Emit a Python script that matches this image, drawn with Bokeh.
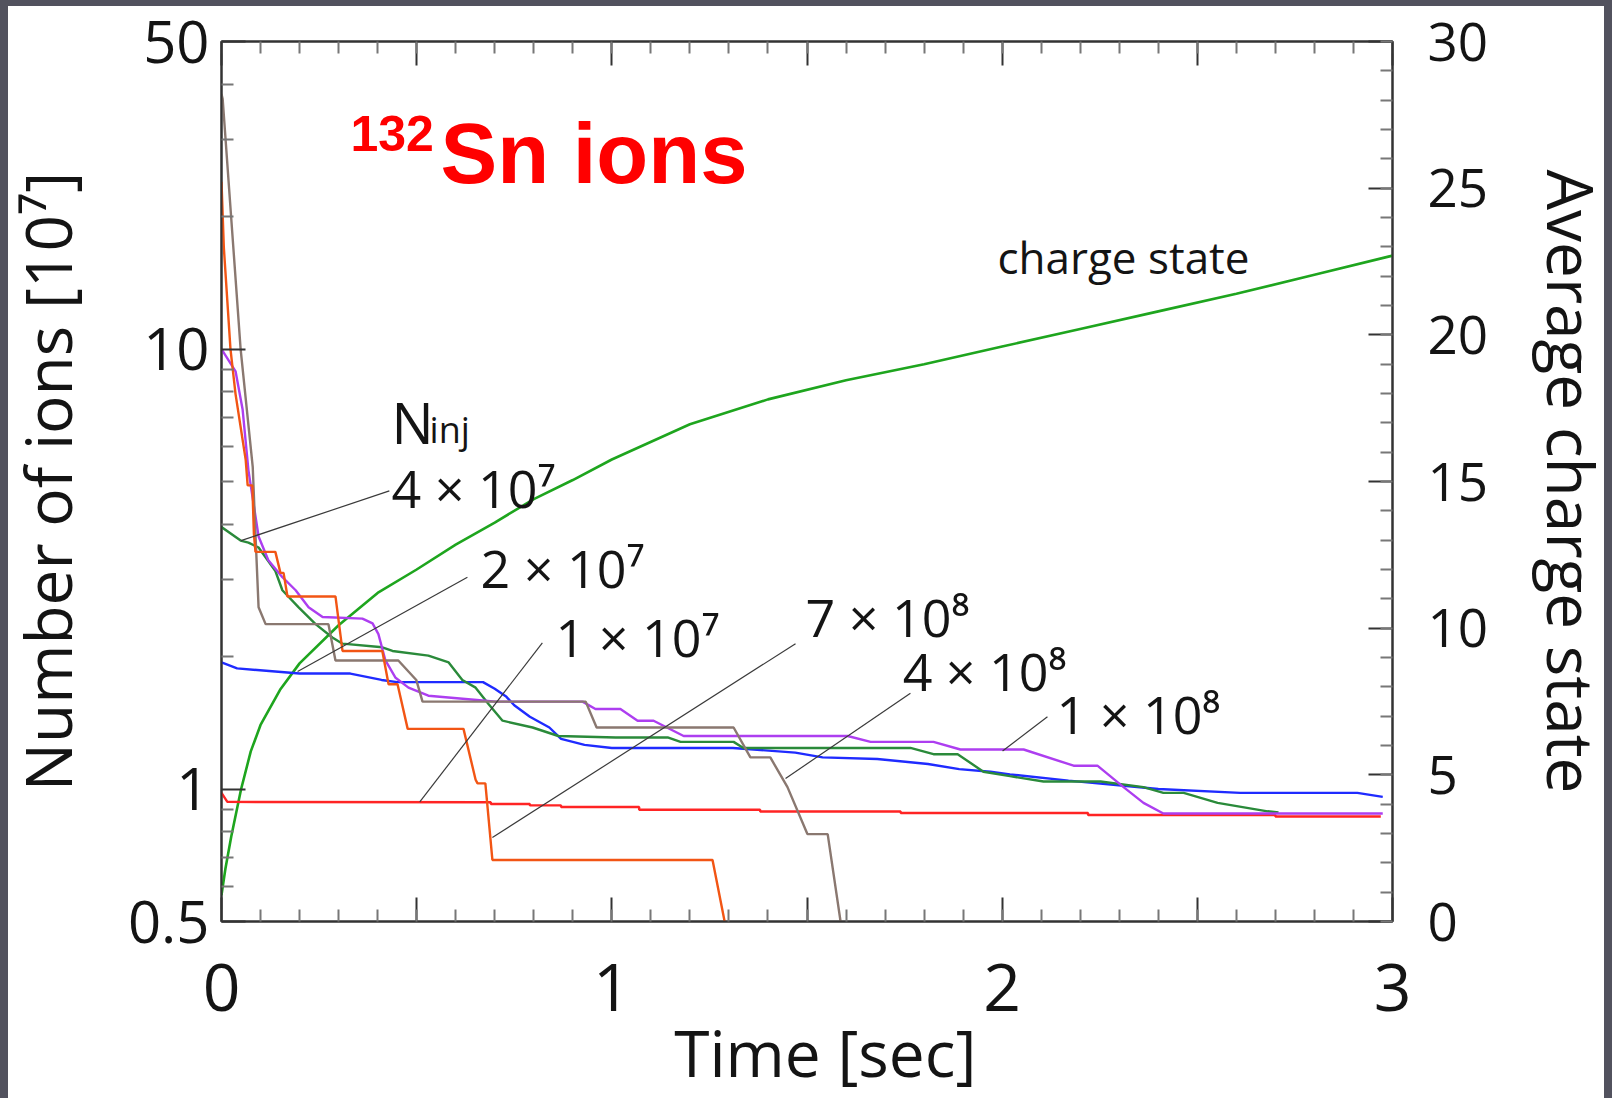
from bokeh.plotting import figure
from bokeh.models import Range1d, LinearAxis, LinearScale, FixedTicker, SingleIntervalTicker, Label
from bokeh.embed import file_html
from bokeh.resources import INLINE

# ---------------- data ----------------
# time axis [sec], number of ions [1e7], average charge state
t_q = [0, 0.01, 0.025, 0.05, 0.075, 0.1, 0.15, 0.2, 0.3, 0.4, 0.5, 0.6, 0.7, 0.8,
       0.9, 1.0, 1.2, 1.4, 1.6, 1.8, 2.0, 2.2, 2.4, 2.6, 2.8, 3.0]
q = [0.9, 1.8, 2.9, 4.5, 5.8, 6.7, 7.9, 8.8, 10.1, 11.2, 12.0, 12.85, 13.6, 14.4,
     15.05, 15.75, 16.95, 17.8, 18.45, 19.0, 19.6, 20.2, 20.8, 21.4, 22.05, 22.7]

# N_inj = 1e7 (red)
t_1e7 = [0, 0.015, 0.69, 0.69, 0.79, 0.79, 0.87, 0.87, 1.07, 1.07, 1.38, 1.38,
         1.74, 1.74, 2.22, 2.22, 2.70, 2.70, 2.97]
n_1e7 = [0.98, 0.935, 0.933, 0.925, 0.925, 0.918, 0.918, 0.91, 0.91, 0.897, 0.897,
         0.889, 0.889, 0.882, 0.882, 0.873, 0.873, 0.866, 0.866]

# N_inj = 2e7 (blue)
t_2e7 = [0, 0.04, 0.2, 0.33, 0.41, 0.45, 0.67, 0.70, 0.73, 0.75, 0.79, 0.84, 0.87,
         0.93, 1.0, 1.31, 1.47, 1.54, 1.68, 1.81, 1.89, 1.97, 2.02, 2.17, 2.40,
         2.61, 2.91, 2.975]
n_2e7 = [1.94, 1.88, 1.83, 1.83, 1.77, 1.75, 1.75, 1.69, 1.62, 1.55, 1.46, 1.38,
         1.30, 1.26, 1.24, 1.24, 1.21, 1.18, 1.17, 1.14, 1.11, 1.095, 1.08, 1.045,
         1.0, 0.98, 0.98, 0.96]

# N_inj = 4e7 (dark green)
t_4e7 = [0, 0.049, 0.069, 0.095, 0.138, 0.156, 0.197, 0.241, 0.284, 0.31, 0.412,
         0.438, 0.53, 0.582, 0.617, 0.651, 0.684, 0.72, 0.797, 0.863, 1.01, 1.143,
         1.176, 1.312, 1.337, 1.765, 1.824, 1.886, 1.952, 2.02, 2.106, 2.252,
         2.362, 2.413, 2.465, 2.552, 2.68, 2.708]
n_4e7 = [3.94, 3.67, 3.63, 3.54, 3.13, 2.83, 2.59, 2.37, 2.21, 2.14, 2.10, 2.06,
         2.01, 1.94, 1.77, 1.70, 1.56, 1.43, 1.38, 1.32, 1.31, 1.31, 1.28, 1.28,
         1.24, 1.24, 1.20, 1.20, 1.095, 1.07, 1.04, 1.04, 1.01, 0.98, 0.98, 0.93,
         0.89, 0.885]

# N_inj = 1e8 (purple)
t_1e8 = [0, 0.036, 0.054, 0.069, 0.095, 0.12, 0.156, 0.19, 0.223, 0.259, 0.361,
         0.387, 0.402, 0.42, 0.446, 0.479, 0.53, 0.669, 0.702, 0.925, 0.958, 1.022,
         1.066, 1.107, 1.184, 1.604, 1.663, 1.824, 1.893, 2.055, 2.183, 2.244,
         2.311, 2.362, 2.413, 2.975]
n_1e8 = [10.0, 8.9, 7.3, 5.3, 3.75, 3.31, 3.03, 2.83, 2.59, 2.46, 2.44, 2.38, 2.25,
         1.96, 1.79, 1.70, 1.63, 1.59, 1.58, 1.58, 1.52, 1.52, 1.43, 1.43, 1.32,
         1.32, 1.28, 1.28, 1.23, 1.23, 1.13, 1.13, 1.01, 0.93, 0.88, 0.88]

# N_inj = 4e8 (brown)
t_4e8 = [0, 0.003, 0.049, 0.08, 0.087, 0.095, 0.113, 0.274, 0.292, 0.453, 0.499,
         0.515, 0.933, 0.961, 1.312, 1.355, 1.406, 1.45, 1.501, 1.553, 1.586]
n_4e8 = [38.0, 37.0, 10.0, 5.4, 3.8, 2.59, 2.37, 2.37, 1.96, 1.96, 1.77, 1.58,
         1.58, 1.38, 1.38, 1.18, 1.18, 1.01, 0.79, 0.79, 0.5]

# N_inj = 7e8 (orange)
t_7e8 = [0, 0.006, 0.023, 0.036, 0.062, 0.067, 0.079, 0.083, 0.087, 0.138, 0.151,
         0.159, 0.169, 0.292, 0.31, 0.412, 0.428, 0.451, 0.477, 0.62, 0.651, 0.656,
         0.676, 0.694, 1.258, 1.289]
n_7e8 = [24.0, 17.0, 10.0, 7.9, 5.6, 4.9, 4.9, 3.8, 3.46, 3.46, 3.1, 3.1, 2.74,
         2.74, 2.06, 2.06, 1.73, 1.73, 1.37, 1.37, 1.05, 1.03, 1.03, 0.69, 0.69, 0.5]

# tick positions / labels
x_label_map = {0: "0", 0.5: "", 1: "1", 1.5: "", 2: "2", 2.5: "", 3: "3"}
y_major = [0.5, 1, 10, 50]
y_minor = [0.6, 0.7, 0.8, 0.9, 2, 3, 4, 5, 6, 7, 8, 9, 20, 30, 40]
y_label_map = {0.5: "0.5", 1: "1", 10: "10", 50: "50"}

# annotation texts and anchor points (time, ions) ; pointer ends
ann_text = ["4 × 10⁷", "2 × 10⁷", "1 × 10⁷", "7 × 10⁸", "4 × 10⁸", "1 × 10⁸"]
ann_t = [0.4355, 0.6635, 0.8557, 1.496, 1.745, 2.139]
ann_n = [4.39, 2.89, 2.01, 2.23, 1.68, 1.345]
ptr_t0 = [0.43, 0.63, 0.822, 1.4706, 1.765, 2.116]
ptr_n0 = [4.76, 3.03, 2.15, 2.14, 1.65, 1.46]
ptr_t1 = [0.05, 0.195, 0.508, 0.694, 1.445, 2.001]
ptr_n1 = [3.67, 1.85, 0.935, 0.776, 1.057, 1.22]

FONT = "Open Sans"
INK = "#141414"

p = figure(frame_width=1171, frame_height=880,
           x_range=Range1d(0, 3), y_range=Range1d(0.5, 50), y_axis_type="log",
           output_backend="svg", toolbar_location=None,
           min_border_left=221, min_border_right=0,
           min_border_top=41, min_border_bottom=0)
p.extra_y_ranges = {"q": Range1d(0, 30)}
p.extra_y_scales = {"q": LinearScale()}
p.grid.visible = False
p.background_fill_color = "white"
p.border_fill_color = "white"
p.outline_line_color = "#333333"
p.outline_line_width = 2


def style_axis(ax, label_size, title_size="64px"):
    ax.axis_line_color = "#333333"
    ax.axis_line_width = 2
    ax.major_tick_line_color = "#333333"
    ax.major_tick_line_width = 2
    ax.minor_tick_line_color = "#777777"
    ax.minor_tick_line_width = 2
    ax.major_tick_in = 24
    ax.major_tick_out = 0
    ax.minor_tick_in = 12
    ax.minor_tick_out = 0
    ax.major_label_text_font = FONT
    ax.major_label_text_font_size = label_size
    ax.major_label_text_color = INK
    ax.axis_label_text_font = FONT
    ax.axis_label_text_font_size = title_size
    ax.axis_label_text_font_style = "normal"
    ax.axis_label_text_color = INK


xax = p.xaxis[0]
xax.ticker = SingleIntervalTicker(interval=0.5, num_minor_ticks=5)
xax.major_label_overrides = x_label_map
xax.axis_label = "\u2007Time [sec]"
style_axis(xax, "66px")
xax.major_label_standoff = 42
xax.axis_label_standoff = -5

yax = p.yaxis[0]
yax.ticker = FixedTicker(ticks=y_major, minor_ticks=y_minor)
yax.major_label_overrides = y_label_map
yax.axis_label = "Number of ions [10⁷]"
style_axis(yax, "58px")
yax.major_label_standoff = 12
yax.axis_label_standoff = 34

rax = LinearAxis(y_range_name="q", ticker=SingleIntervalTicker(interval=5, num_minor_ticks=5),
                 axis_label="Average charge state")
style_axis(rax, "53px")
rax.major_label_standoff = 35
rax.axis_label_standoff = 37
p.add_layout(rax, "right")

tax = LinearAxis(ticker=SingleIntervalTicker(interval=0.5, num_minor_ticks=5))
style_axis(tax, "0px")
tax.major_label_standoff = 0
tax.major_label_text_alpha = 0
p.add_layout(tax, "above")

# ---- series ----
LW = 2.4
p.line(t_q, q, y_range_name="q", line_color="#1ea51e", line_width=2.6)
p.line(t_1e7, n_1e7, line_color="#ff2424", line_width=LW)
p.line(t_2e7, n_2e7, line_color="#1f2bff", line_width=LW)
p.line(t_4e7, n_4e7, line_color="#2a8a3a", line_width=LW)
p.line(t_1e8, n_1e8, line_color="#ad3ef0", line_width=LW)
p.line(t_4e8, n_4e8, line_color="#8a7870", line_width=LW)
p.line(t_7e8, n_7e8, line_color="#f25514", line_width=LW)

# ---- pointers and labels ----
p.segment(x0=ptr_t0, y0=ptr_n0, x1=ptr_t1, y1=ptr_n1, line_color="#3a3a3a", line_width=1.2)
for txt, tx, ny in zip(ann_text, ann_t, ann_n):
    p.add_layout(Label(x=tx, y=ny, y_offset=19, text=txt, text_font=FONT,
                       text_font_size="52px", text_color=INK,
                       text_baseline="alphabetic", text_align="left"))

p.add_layout(Label(x=0.4355, y=6.13, y_offset=21, text="N", text_font=FONT,
                   text_font_size="56px", text_color=INK, text_baseline="alphabetic"))
p.add_layout(Label(x=0.533, y=6.13, y_offset=13, text="inj", text_font=FONT,
                   text_font_size="36px", text_color=INK, text_baseline="alphabetic"))
p.add_layout(Label(x=1.988, y=22.1, y_offset=16, y_range_name="q", text="charge state",
                   text_font=FONT, text_font_size="44px", text_color=INK,
                   text_baseline="alphabetic"))

# ---- title ----
p.add_layout(Label(x=0.3305, y=28.3, y_offset=17, text="132", text_font="Liberation Sans",
                   text_font_style="bold", text_font_size="50px", text_color="#ff0000",
                   text_baseline="alphabetic"))
p.add_layout(Label(x=0.561, y=23.8, y_offset=30, text="Sn ions", text_font="Liberation Sans",
                   text_font_style="bold", text_font_size="85px", text_color="#ff0000",
                   text_baseline="alphabetic"))

html = file_html(p, INLINE, title="132Sn ions")
css = ("<style>html,body{margin:0;padding:0;overflow:hidden;background:#ffffff;}"
       "#slideframe{position:fixed;left:0;top:0;width:1612px;height:1098px;"
       "box-sizing:border-box;border-style:solid;border-color:#52525e;"
       "border-width:6px 8px 0 8px;pointer-events:none;z-index:10;}</style></head>")
html = html.replace("</head>", css, 1)
html = html.replace("</body>", '<div id="slideframe"></div></body>', 1)
open("out.html", "w").write(html)
